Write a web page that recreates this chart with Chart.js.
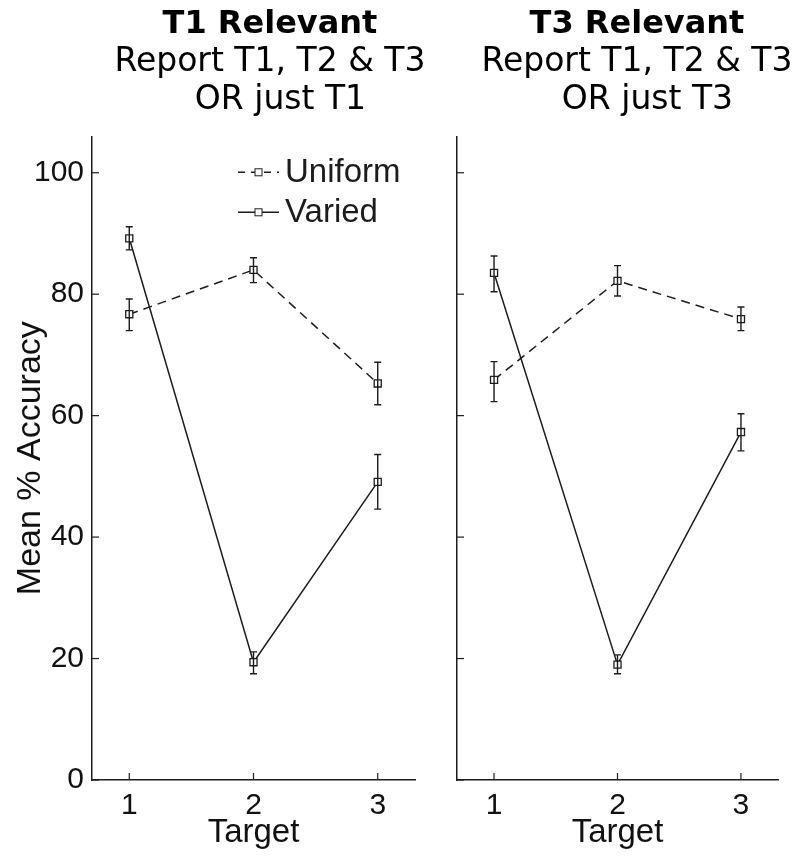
<!DOCTYPE html>
<html>
<head>
<meta charset="utf-8">
<script src="https://cdn.jsdelivr.net/npm/chart.js@4/dist/chart.umd.min.js"></script>
<style>
html, body { margin: 0; padding: 0; background: #fff; overflow: hidden; }
#wrap { position: relative; width: 800px; height: 865px; }
#c1 { position: absolute; left: 0; top: 0; }
#c2 { position: absolute; left: 440px; top: 0; }
</style>
</head>
<body>
<div id="wrap">
  <canvas id="c1" width="540" height="865"></canvas>
  <canvas id="c2" width="394" height="865"></canvas>
</div>
<script>
var targets = [1, 2, 3];
var yTicks = [0, 20, 40, 60, 80, 100];
var seriesNames = ['Uniform', 'Varied'];

// T1 relevant panel
var t1Uniform = [76.7, 84.0, 65.3];
var t1UniformLo = [74.0, 81.9, 61.8];
var t1UniformHi = [79.2, 86.0, 68.8];
var t1Varied = [89.2, 19.4, 49.1];
var t1VariedLo = [87.3, 17.5, 44.6];
var t1VariedHi = [91.1, 21.1, 53.6];

// T3 relevant panel
var t3Uniform = [65.9, 82.2, 75.9];
var t3UniformLo = [62.3, 79.7, 74.0];
var t3UniformHi = [68.9, 84.7, 77.9];
var t3Varied = [83.5, 19.0, 57.3];
var t3VariedLo = [80.4, 17.5, 54.2];
var t3VariedHi = [86.3, 20.6, 60.3];

var ink = '#1c1c1c';
var sans = "'Liberation Sans', Arial, sans-serif";
var titleFont = "'DejaVu Sans', Verdana, sans-serif";

function pts(vals) {
    return targets.map(function(t, i) { return {x: t, y: vals[i]}; });
}

function makeDataset(label, vals, lo, hi, dashed) {
    return {
        label: label,
        data: pts(vals),
        errLo: lo,
        errHi: hi,
        borderColor: ink,
        borderWidth: 1.5,
        borderDash: dashed ? [9, 6] : [],
        pointStyle: 'rect',
        pointRadius: 5,
        pointBorderWidth: 1.3,
        pointBorderColor: ink,
        pointBackgroundColor: '#fff',
        fill: false,
        tension: 0
    };
}

// error bars + inward tick marks (matlab style)
var errPlugin = {
    id: 'errbars',
    afterDatasetsDraw: function(chart) {
        var ctx = chart.ctx, xs = chart.scales.x, ys = chart.scales.y;
        var area = chart.chartArea;
        ctx.save();
        ctx.strokeStyle = ink;
        ctx.lineWidth = 1.4;
        ctx.setLineDash([]);
        chart.data.datasets.forEach(function(ds) {
            ds.data.forEach(function(p, i) {
                var x = xs.getPixelForValue(p.x);
                var y1 = ys.getPixelForValue(ds.errLo[i]);
                var y2 = ys.getPixelForValue(ds.errHi[i]);
                ctx.beginPath();
                ctx.moveTo(x, y1); ctx.lineTo(x, y2);
                ctx.moveTo(x - 3.5, y1); ctx.lineTo(x + 3.5, y1);
                ctx.moveTo(x - 3.5, y2); ctx.lineTo(x + 3.5, y2);
                ctx.stroke();
            });
        });
        ctx.lineWidth = 1.2;
        ys.ticks.forEach(function(t) {
            var y = ys.getPixelForValue(t.value);
            ctx.beginPath();
            ctx.moveTo(area.left, y); ctx.lineTo(area.left + 7, y);
            ctx.stroke();
        });
        xs.ticks.forEach(function(t) {
            var x = xs.getPixelForValue(t.value);
            ctx.beginPath();
            ctx.moveTo(x, area.bottom); ctx.lineTo(x, area.bottom - 7);
            ctx.stroke();
        });
        ctx.restore();
    }
};

// legend drawn inside the plot area of the left panel
var innerLegend = {
    id: 'innerLegend',
    afterDraw: function(chart) {
        var ctx = chart.ctx, area = chart.chartArea;
        ctx.save();
        chart.data.datasets.forEach(function(ds, i) {
            var x0 = area.left + 146, y = area.top + 36 + i * 40;
            ctx.strokeStyle = ink;
            ctx.lineWidth = 1.4;
            ctx.setLineDash(ds.borderDash.length ? [7, 6] : []);
            ctx.beginPath();
            ctx.moveTo(x0, y); ctx.lineTo(x0 + 41, y);
            ctx.stroke();
            ctx.setLineDash([]);
            ctx.fillStyle = '#fff';
            ctx.fillRect(x0 + 17, y - 3.5, 7, 7);
            ctx.lineWidth = 1;
            ctx.strokeRect(x0 + 17, y - 3.5, 7, 7);
            ctx.fillStyle = ink;
            ctx.font = '33px ' + sans;
            ctx.textBaseline = 'middle';
            ctx.fillText(ds.label, x0 + 47, y + 1);
        });
        ctx.restore();
    }
};

function makeChart(id, title, subtitle, uni, uniLo, uniHi, vari, variLo, variHi, isLeft) {
    var cfg = {
        type: 'line',
        data: {
            datasets: [
                makeDataset(seriesNames[0], uni, uniLo, uniHi, true),
                makeDataset(seriesNames[1], vari, variLo, variHi, false)
            ]
        },
        options: {
            responsive: false,
            animation: false,
            layout: {padding: 0},
            plugins: {
                legend: {display: false},
                tooltip: {enabled: false},
                title: {
                    display: true,
                    text: title,
                    color: '#000',
                    font: {family: titleFont, size: 32, weight: 'bold', lineHeight: 1.2},
                    padding: {top: 5, bottom: 0}
                },
                subtitle: {
                    display: true,
                    text: subtitle,
                    color: '#000',
                    font: {family: titleFont, size: 33, lineHeight: 1.15},
                    padding: {top: 0, bottom: 17}
                }
            },
            scales: {
                x: {
                    type: 'linear',
                    min: 0.7,
                    max: 3.3,
                    grid: {display: false, drawTicks: false},
                    border: {display: true, color: ink, width: 1.5},
                    afterBuildTicks: function(s) {
                        s.ticks = targets.map(function(v) { return {value: v}; });
                    },
                    afterFit: function(s) { s.height = 85; },
                    ticks: {
                        color: '#111',
                        padding: 8,
                        font: {family: sans, size: 30}
                    },
                    title: {
                        display: true,
                        text: 'Target',
                        color: '#111',
                        font: {family: sans, size: 33},
                        padding: {top: 0, bottom: 12}
                    }
                },
                y: {
                    min: 0,
                    max: 106,
                    grid: {display: false, drawTicks: false},
                    border: {display: true, color: ink, width: 1.5},
                    afterBuildTicks: function(s) {
                        s.ticks = yTicks.map(function(v) { return {value: v}; });
                    },
                    afterFit: function(s) { s.width = isLeft ? 92 : 17; },
                    ticks: {
                        display: isLeft,
                        color: '#111',
                        padding: 8,
                        font: {family: sans, size: 30}
                    },
                    title: {
                        display: isLeft,
                        text: 'Mean % Accuracy',
                        color: '#111',
                        font: {family: sans, size: 34},
                        padding: {top: 10, bottom: 0}
                    }
                },
                // empty spacer on the right so the titles sit where the reference has them
                spacer: {
                    type: 'linear',
                    position: 'right',
                    display: true,
                    grid: {display: false, drawTicks: false},
                    border: {display: false},
                    ticks: {display: false},
                    afterFit: function(s) { s.width = isLeft ? 125 : 56; }
                }
            }
        },
        plugins: isLeft ? [errPlugin, innerLegend] : [errPlugin]
    };
    return new Chart(document.getElementById(id), cfg);
}

makeChart('c1', 'T1 Relevant', ['Report T1, T2 & T3', '  OR just T1'],
    t1Uniform, t1UniformLo, t1UniformHi, t1Varied, t1VariedLo, t1VariedHi, true);
makeChart('c2', 'T3 Relevant', ['Report T1, T2 & T3', '  OR just T3'],
    t3Uniform, t3UniformLo, t3UniformHi, t3Varied, t3VariedLo, t3VariedHi, false);
</script>
</body>
</html>
